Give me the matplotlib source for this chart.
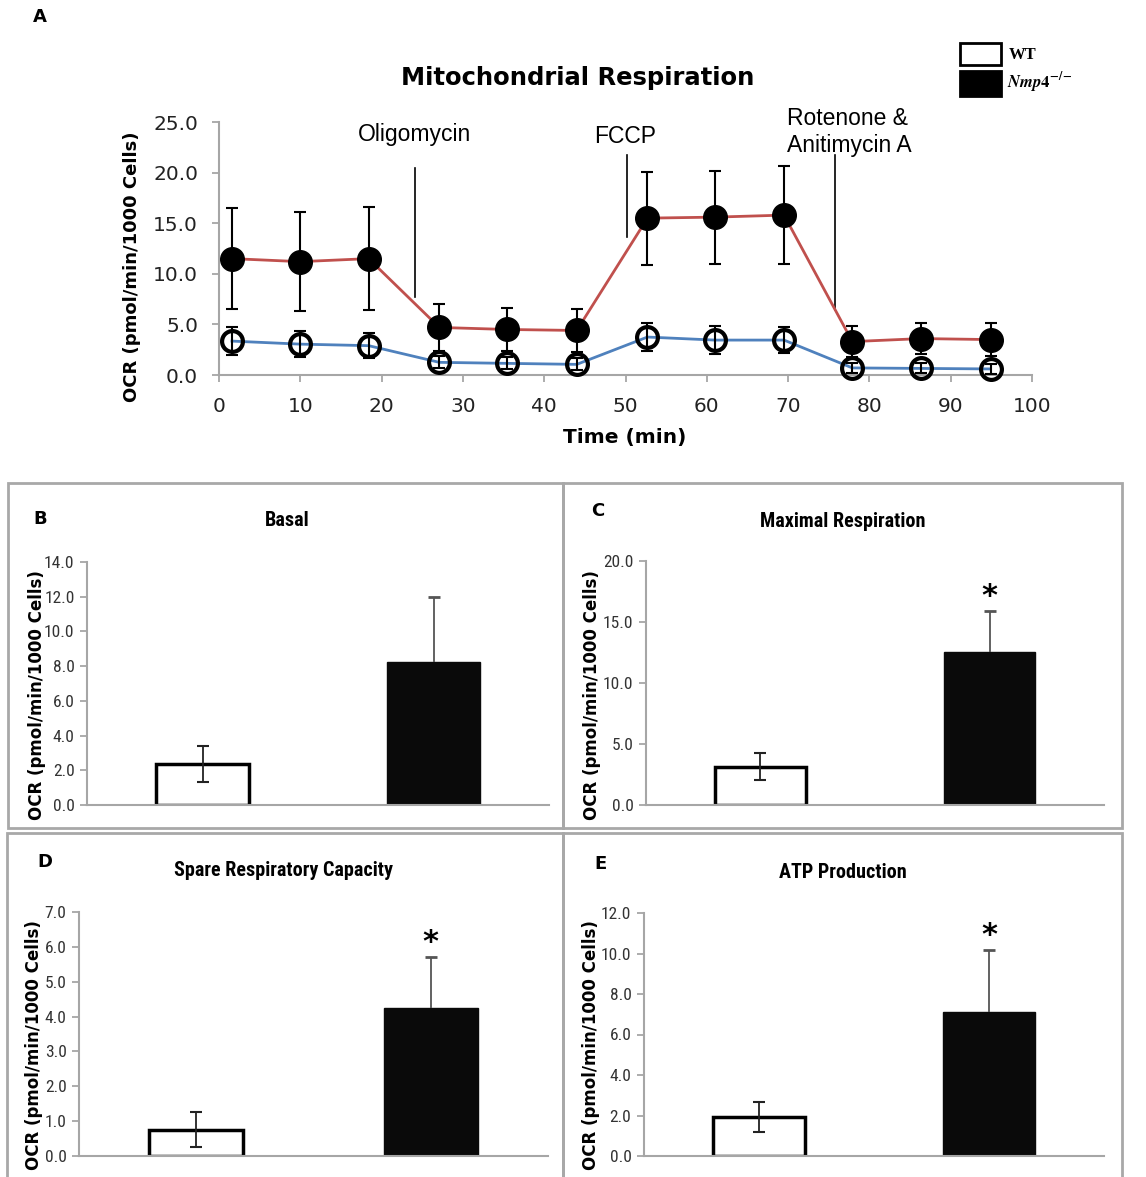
import numpy as np
import matplotlib
matplotlib.use("Agg")
import matplotlib.pyplot as plt
from matplotlib import font_manager
from matplotlib.font_manager import FontProperties
from matplotlib.patches import Rectangle

# ---------------- data ----------------
time_min = [1.6, 10.0, 18.4, 27.1, 35.4, 44.0, 52.7, 61.0, 69.5, 77.9, 86.4, 94.9]
nmp4_ocr = [11.5, 11.2, 11.5, 4.7, 4.5, 4.4, 15.5, 15.6, 15.8, 3.3, 3.6, 3.5]
nmp4_err = [5.0, 4.9, 5.1, 2.3, 2.1, 2.1, 4.6, 4.6, 4.85, 1.5, 1.5, 1.6]
wt_ocr = [3.35, 3.05, 2.9, 1.25, 1.15, 1.05, 3.75, 3.45, 3.45, 0.7, 0.65, 0.6]
wt_err = [1.35, 1.3, 1.25, 0.6, 0.6, 0.6, 1.4, 1.4, 1.3, 0.5, 0.5, 0.5]

inj_labels = ["Oligomycin", "FCCP", "Rotenone &\nAnitimycin A"]
inj_time = [24.1, 50.2, 75.8]
inj_ymin = [7.7, 13.6, 6.4]
inj_ymax = [20.5, 21.7, 21.7]

groups = ["WT", "Nmp4-/-"]
bar_titles = ["Basal", "Maximal Respiration", "Spare Respiratory Capacity", "ATP Production"]
bar_letters = ["B", "C", "D", "E"]
bar_wt = [2.36, 3.14, 0.75, 1.94]
bar_wt_err = [1.03, 1.1, 0.5, 0.75]
bar_nmp4 = [8.26, 12.54, 4.25, 7.11]
bar_nmp4_err = [3.7, 3.4, 1.46, 3.06]
bar_sig = [False, True, True, True]
bar_ymax = [14.0, 20.0, 7.0, 12.0]
bar_ystep = [2.0, 5.0, 1.0, 2.0]

# ---------------- fonts ----------------
def weight_num(w):
    if isinstance(w, (int, float)):
        return w
    table = {"ultralight": 100, "light": 300, "normal": 400, "regular": 400,
             "book": 400, "medium": 500, "roman": 400, "semibold": 600,
             "demibold": 600, "demi": 600, "bold": 700, "heavy": 800,
             "extra bold": 800, "black": 900}
    return table.get(str(w).lower(), 400)


def is_narrow(f):
    return ("Narrow" in f.name or "Condensed" in f.name
            or str(f.stretch) in ("condensed", "semi-condensed", "extra-condensed")
            or (isinstance(f.stretch, int) and f.stretch < 500))


pref = ["Liberation Sans Narrow", "Roboto Condensed", "DejaVu Sans",
        "Open Sans Condensed", "Noto Sans"]


def pick_narrow(target_weight):
    cands = [f for f in font_manager.fontManager.ttflist
             if is_narrow(f) and f.style == "normal"]
    if not cands:
        return None

    def score(f):
        p = pref.index(f.name) if f.name in pref else len(pref)
        return (abs(weight_num(f.weight) - target_weight), p)
    return sorted(cands, key=score)[0].fname


NARROW_REG = pick_narrow(400)
NARROW_BOLD = pick_narrow(700)


def nfp(path, size, fallback_weight="normal"):
    if path:
        return FontProperties(fname=path, size=size)
    return FontProperties(family="Roboto", weight=fallback_weight, size=size * 0.9)


plt.rcParams["font.family"] = ["DejaVu Sans"]
plt.rcParams["mathtext.fontset"] = "stix"

W, H = 1146, 1177
fig = plt.figure(figsize=(W / 100, H / 100), dpi=100)
fig.patch.set_facecolor("white")


def px_axes(l, t, r, b):
    return fig.add_axes([l / W, 1 - b / H, (r - l) / W, (b - t) / H])


def fx(x):
    return x / W


def fy(y):
    return 1 - y / H


SPINE = "#A6A6A6"
RED = "#C0504D"
BLUE = "#4F81BD"

# ---------------- Panel A ----------------
AL, AT, AR, AB = 219, 122, 1032, 375
ax = px_axes(AL, AT, AR, AB)
ax.errorbar(time_min, nmp4_ocr, yerr=nmp4_err, fmt="none", ecolor="black",
            elinewidth=1.5, capsize=4.5, capthick=1.5, zorder=3, clip_on=False)
ax.errorbar(time_min, wt_ocr, yerr=wt_err, fmt="none", ecolor="black",
            elinewidth=1.5, capsize=4.5, capthick=1.5, zorder=3, clip_on=False)
ax.plot(time_min, nmp4_ocr, color=RED, lw=2, zorder=2, clip_on=False)
ax.plot(time_min, wt_ocr, color=BLUE, lw=2, zorder=2, clip_on=False)
ax.plot(time_min, nmp4_ocr, ls="none", marker="o", ms=17, mfc="black",
        mec="black", zorder=4, clip_on=False)
ax.plot(time_min, wt_ocr, ls="none", marker="o", ms=15, mfc="none",
        mec="black", mew=3, zorder=4, clip_on=False)

for t, y0, y1 in zip(inj_time, inj_ymin, inj_ymax):
    ax.plot([t, t], [y0, y1], color="black", lw=1.2, zorder=1, clip_on=False)
ax.text(24.0, 23.8, inj_labels[0], ha="center", va="center", fontsize=16.5,
        family="Liberation Sans")
ax.text(50.0, 23.6, inj_labels[1], ha="center", va="center", fontsize=16.5,
        family="Liberation Sans")
ax.text(69.9, 24.0, inj_labels[2], ha="left", va="center", fontsize=16.5,
        family="Liberation Sans", linespacing=1.2)

ax.set_xlim(0, 100)
ax.set_ylim(0, 25)
ax.set_xticks(np.arange(0, 101, 10))
ax.set_yticks(np.arange(0, 25.1, 5))
ax.set_yticklabels([f"{v:.1f}" for v in np.arange(0, 25.1, 5)])
for s in ["top", "right"]:
    ax.spines[s].set_visible(False)
for s in ["left", "bottom"]:
    ax.spines[s].set_color(SPINE)
    ax.spines[s].set_linewidth(1.5)
ax.tick_params(axis="both", direction="out", length=5, width=1.3, color=SPINE,
               labelsize=14.5, labelcolor="#222222")
ax.tick_params(axis="y", pad=10)
ax.tick_params(axis="x", pad=11)
ax.set_xlabel("Time (min)", fontsize=14.5, fontweight="bold")
ax.xaxis.set_label_coords((625 - AL) / (AR - AL), -(428 - AB) / (AB - AT))
ax.set_ylabel("OCR (pmol/min/1000 Cells)", fontsize=13, fontweight="bold")
ax.yaxis.set_label_coords(-(AL - 141) / (AR - AL), (AB - 267) / (AB - AT))
fig.text(fx(578), fy(78), "Mitochondrial Respiration", ha="center", va="center",
         fontsize=17.5, fontweight="bold")
fig.text(fx(40), fy(17), "A", ha="center", va="center", fontsize=13,
         fontweight="bold")

# legend
fig.add_artist(Rectangle((fx(960), fy(65)), fx(41), 22 / H, transform=fig.transFigure,
                         facecolor="white", edgecolor="black", lw=2))
fig.add_artist(Rectangle((fx(960), fy(96)), fx(41), 25 / H, transform=fig.transFigure,
                         facecolor="black", edgecolor="black", lw=2))
fig.text(fx(1009), fy(55), groups[0], ha="left", va="center", fontsize=12,
         family="Liberation Serif", fontweight="bold")
fig.text(fx(1007), fy(83), r"$\boldsymbol{Nmp4}^{\mathbf{-/-}}$", ha="left",
         va="center", fontsize=12)

# ---------------- frames ----------------
FRAME = "#A8A8A8"
frame_boxes = [(8, 483, 563, 828), (563, 483, 1122, 828),
               (7, 833, 563, 1180), (563, 833, 1122, 1180)]
for (l, t, r, b) in frame_boxes:
    fig.add_artist(Rectangle((fx(l), fy(b)), fx(r - l), (b - t) / H,
                             transform=fig.transFigure, facecolor="none",
                             edgecolor=FRAME, lw=2, clip_on=False))

# ---------------- bar panels ----------------
bar_axes_px = [(87, 562, 549, 805), (646, 561, 1104, 805),
               (79, 912, 548, 1156), (644, 913, 1104, 1156)]
ylabel_px = [(46, 695), (601, 695), (43, 1045), (600, 1045)]
title_pos = [(287, 520), (843, 521), (284, 871), (843, 872)]
letter_pos = [(40, 519), (598, 511), (45, 862), (600, 864)]

for i in range(4):
    l, t, r, b = bar_axes_px[i]
    bx = px_axes(l, t, r, b)
    xpos = np.arange(len(groups))
    bx.bar(xpos[0], bar_wt[i], width=0.4, facecolor="white", edgecolor="black",
           linewidth=2.5, zorder=2)
    bx.bar(xpos[1], bar_nmp4[i], width=0.4, facecolor="#0A0A0A",
           edgecolor="#0A0A0A", linewidth=1, zorder=2)
    bx.errorbar(xpos[0], bar_wt[i], yerr=bar_wt_err[i], fmt="none",
                ecolor="#222222", elinewidth=1.3, capsize=4, capthick=1.5, zorder=3)
    eb = bx.errorbar(xpos[1], bar_nmp4[i], yerr=[[0], [bar_nmp4_err[i]]], fmt="none",
                     ecolor="#555555", elinewidth=1.3, capsize=4, capthick=2, zorder=3)
    for cap in eb[1]:
        if np.all(np.asarray(cap.get_ydata()) <= bar_nmp4[i] + 1e-9):
            cap.set_visible(False)
    if bar_sig[i]:
        bx.annotate("*", xy=(xpos[1], bar_nmp4[i] + bar_nmp4_err[i]),
                    xytext=(0, 0), textcoords="offset points", ha="center",
                    va="bottom", fontsize=22, fontweight="bold")
    bx.set_xlim(-0.5, 1.5)
    bx.set_ylim(0, bar_ymax[i])
    yt = np.arange(0, bar_ymax[i] + 1e-6, bar_ystep[i])
    bx.set_yticks(yt)
    bx.set_yticklabels([f"{v:.1f}" for v in yt], color="#333333",
                       fontproperties=nfp(NARROW_REG, 12.5))
    bx.set_xticks([])
    for s in ["top", "right"]:
        bx.spines[s].set_visible(False)
    for s in ["left", "bottom"]:
        bx.spines[s].set_color(SPINE)
        bx.spines[s].set_linewidth(1.5)
    bx.tick_params(axis="y", direction="out", length=5, width=1.3, color=SPINE,
                   pad=4)
    bx.set_ylabel("OCR (pmol/min/1000 Cells)", fontsize=12, fontweight="bold")
    lx_, ly_ = ylabel_px[i]
    bx.yaxis.set_label_coords((lx_ - l) / (r - l), (b - ly_) / (b - t))
    tx, ty = title_pos[i]
    fig.text(fx(tx), fy(ty), bar_titles[i], ha="center", va="center",
             fontproperties=nfp(NARROW_BOLD, 14.5, "bold"))
    lx, ly = letter_pos[i]
    fig.text(fx(lx), fy(ly), bar_letters[i], ha="center", va="center",
             fontsize=13, fontweight="bold")

fig.savefig("out.png", dpi=100, facecolor="white")
